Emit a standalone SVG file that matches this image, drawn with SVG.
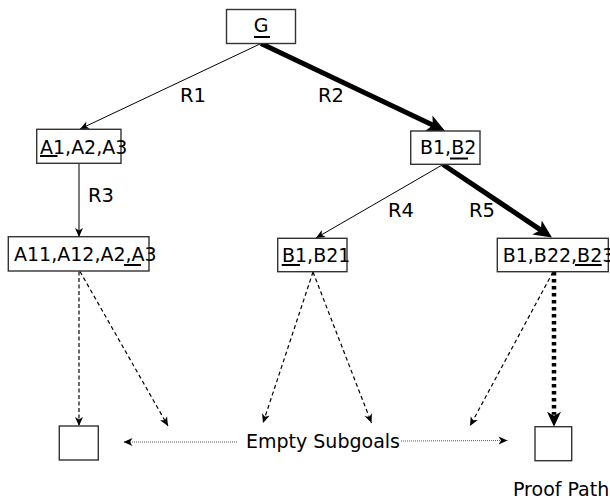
<svg xmlns="http://www.w3.org/2000/svg" width="610" height="498" viewBox="0 0 610 498">
<style>
.box{fill:#fff;stroke:#333;stroke-width:1.4}
.t{font-family:"DejaVu Sans",sans-serif;font-size:19px;fill:#000}
.lbl{font-family:"DejaVu Sans",sans-serif;font-size:19.5px;fill:#000}
.cap{font-family:"DejaVu Sans",sans-serif;font-size:19px;fill:#000}
.ul{stroke:#000;stroke-width:2}
.thin{fill:none;stroke:#000;stroke-width:1}
.gray{fill:none;stroke:#444;stroke-width:1.4}
.thick{fill:none;stroke:#000;stroke-width:5}
.dash{fill:none;stroke:#000;stroke-width:1.2;stroke-dasharray:4,3}
.dashg{fill:none;stroke:#444;stroke-width:1.6;stroke-dasharray:4,2.5}
.dots{fill:none;stroke:#000;stroke-width:4.5;stroke-dasharray:3.5,3.5}
.fine{fill:none;stroke:#555;stroke-width:1;stroke-dasharray:1,1}
</style>
<defs>
<marker id="ah" viewBox="-10 -5 11 10" refX="0" refY="0" markerWidth="11" markerHeight="10" markerUnits="userSpaceOnUse" orient="auto">
<path d="M0,0 L-9,-4 L-6.5,0 L-9,4 Z" fill="#000"/>
</marker>
<marker id="ahBig" viewBox="-8 -9 22 18" refX="0" refY="0" markerWidth="22" markerHeight="18" markerUnits="userSpaceOnUse" orient="auto">
<path d="M12,0 L-6,-8.5 L-1.5,0 L-6,8.5 Z" fill="#000"/>
</marker>
<marker id="ahDot" viewBox="-6 -8 20 16" refX="0" refY="0" markerWidth="20" markerHeight="16" markerUnits="userSpaceOnUse" orient="auto">
<path d="M12,0 L-3,-7 L1,0 L-3,7 Z" fill="#000"/>
</marker>
</defs>

<g id="connectors">
<line class="thin" x1="261" y1="43.5" x2="80" y2="129" marker-end="url(#ah)"/>
<line class="thick" x1="261" y1="43.5" x2="434.2" y2="125.8" marker-end="url(#ahBig)"/>
<line class="gray" x1="79" y1="163.5" x2="79" y2="237" marker-end="url(#ah)"/>
<line class="thin" x1="443" y1="164.5" x2="316" y2="238" marker-end="url(#ah)"/>
<line class="thick" x1="443" y1="164.5" x2="542" y2="230.8" marker-end="url(#ahBig)"/>
<line class="dashg" x1="79" y1="271.5" x2="79" y2="426" marker-end="url(#ah)"/>
<line class="dash" x1="80" y1="271.5" x2="168" y2="426" marker-end="url(#ah)"/>
<line class="dash" x1="313" y1="272" x2="263" y2="423" marker-end="url(#ah)"/>
<line class="dash" x1="313" y1="272" x2="371.5" y2="423" marker-end="url(#ah)"/>
<line class="dash" x1="553" y1="272" x2="470" y2="426" marker-end="url(#ah)"/>
<line class="dots" x1="554" y1="272" x2="554" y2="414.7" marker-end="url(#ahDot)"/>
<line class="fine" x1="237" y1="442" x2="123.5" y2="442" marker-end="url(#ah)"/>
<line class="fine" x1="401" y1="441" x2="507.5" y2="440.5" marker-end="url(#ah)"/>
<text class="lbl" x="180" y="102">R1</text>
<text class="lbl" x="318" y="102">R2</text>
<text class="lbl" x="88" y="202">R3</text>
<text class="lbl" x="388" y="216.5">R4</text>
<text class="lbl" x="469" y="217">R5</text>
</g>

<g id="node-G">
<rect class="box" x="226.5" y="9.5" width="69" height="34"/>
<text class="t" x="261" y="32" text-anchor="middle">G</text>
<line class="ul" x1="254" y1="37" x2="270" y2="37"/>
</g>

<g id="node-A1A2A3">
<rect class="box" x="36.7" y="129.3" width="84.3" height="34"/>
<text class="t" x="40" y="153.5">A1,A2,A3</text>
<line class="ul" x1="40" y1="156" x2="57.5" y2="156"/>
</g>

<g id="node-B1B2">
<rect class="box" x="410.7" y="131" width="69.3" height="33.3"/>
<text class="t" x="420" y="153.5">B1,B2</text>
<line class="ul" x1="450" y1="158.5" x2="468" y2="158.5"/>
</g>

<g id="node-A11A12A2A3">
<rect class="box" x="8.3" y="236.7" width="140.7" height="34.3"/>
<text class="t" x="14" y="261">A11,A12,A2,A3</text>
<line class="ul" x1="124" y1="265" x2="141" y2="265"/>
</g>

<g id="node-B1B21">
<rect class="box" x="277.7" y="238.3" width="69.3" height="33.4"/>
<text class="t" x="282" y="261.5">B1,B21</text>
<line class="ul" x1="281.7" y1="265" x2="300" y2="265"/>
</g>

<g id="node-B1B22B23">
<rect class="box" x="497.3" y="238.3" width="111" height="33.4"/>
<text class="t" x="502.7" y="261.5">B1,B22,B23</text>
<line class="ul" x1="575" y1="265" x2="601.7" y2="265"/>
</g>

<g id="node-empty-left">
<rect class="box" x="59.3" y="426" width="39" height="34"/>
</g>

<g id="node-empty-right">
<rect class="box" x="535" y="426.7" width="36.7" height="34"/>
</g>

<g id="caption-empty">
<text class="cap" x="246" y="447.5">Empty Subgoals</text>
</g>

<g id="caption-proof">
<text class="cap" x="513" y="495.5">Proof Path</text>
</g>
</svg>
